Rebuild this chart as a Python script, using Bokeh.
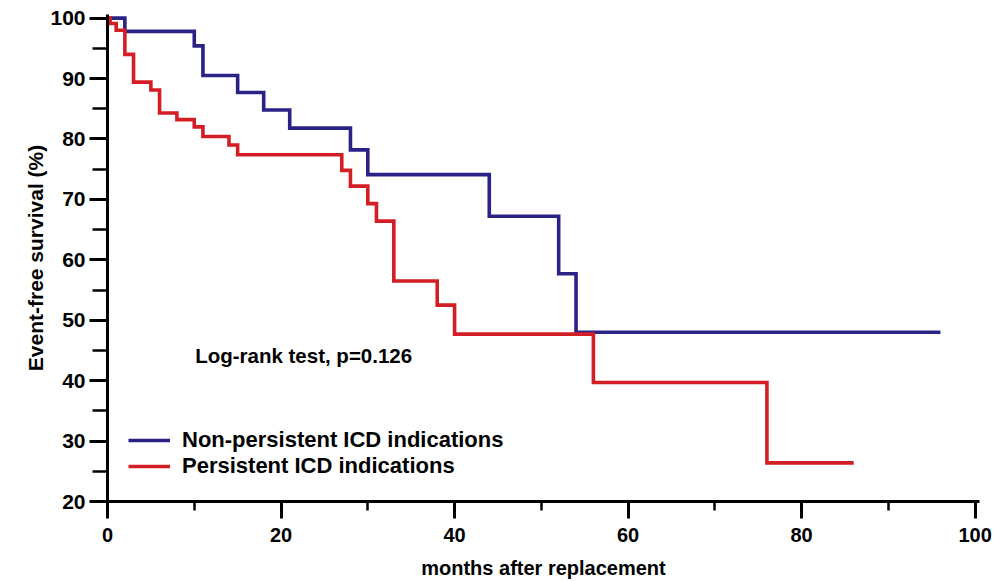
from bokeh.plotting import figure
from bokeh.models import Range1d, SingleIntervalTicker, Legend, LegendItem, Label
from bokeh.embed import file_html
from bokeh.resources import INLINE

# ---- data ----
months_non_persistent = [0, 2, 10, 11, 15, 18, 21, 28, 30, 44, 52, 54, 96]
survival_non_persistent = [100, 97.8, 95.4, 90.5, 87.7, 84.8, 81.8, 78.2, 74.1, 67.2, 57.7, 48.0, 48.0]

months_persistent = [0, 0.3, 1, 2, 3, 5, 6, 8, 10, 11, 14, 15, 27, 28, 30, 31, 33, 38, 40, 56, 76, 86]
survival_persistent = [100, 99.1, 98.0, 94.0, 89.4, 88.1, 84.3, 83.2, 82.0, 80.4, 79.0, 77.4,
                       74.8, 72.2, 69.3, 66.4, 56.5, 52.5, 47.7, 39.7, 26.4, 26.4]

series_names = ["Non-persistent ICD indications", "Persistent ICD indications"]
x_title = "months after replacement"
y_title = "Event-free survival (%)"
annotation = "Log-rank test, p=0.126"

FONT = "Liberation Sans"
BLUE = "#2B2288"
RED = "#D41E26"

p = figure(width=993, height=581, output_backend="svg", toolbar_location=None,
           x_range=Range1d(0, 100.5), y_range=Range1d(20, 100.6),
           min_border_left=107, min_border_right=14, min_border_top=14, min_border_bottom=80)
p.outline_line_color = None
p.grid.visible = False
p.background_fill_color = "white"

r_np = p.step(months_non_persistent, survival_non_persistent, mode="after",
              line_color=BLUE, line_width=3.6, line_join="miter")
r_p = p.step(months_persistent, survival_persistent, mode="after",
             line_color=RED, line_width=3.6, line_join="miter")

p.xaxis.ticker = SingleIntervalTicker(interval=20, num_minor_ticks=2)
p.yaxis.ticker = SingleIntervalTicker(interval=10, num_minor_ticks=2)

for ax in (p.xaxis, p.yaxis):
    ax.axis_line_width = 3
    ax.axis_line_color = "black"
    ax.major_tick_line_width = 3
    ax.minor_tick_line_width = 2.5
    ax.major_tick_line_color = "black"
    ax.minor_tick_line_color = "black"
    ax.major_tick_in = 0
    ax.minor_tick_in = 0
    ax.major_label_text_font = FONT
    ax.major_label_text_font_style = "bold"
    ax.major_label_text_color = "black"
    ax.axis_label_text_font = FONT
    ax.axis_label_text_font_style = "bold"
    ax.axis_label_text_color = "black"

p.xaxis.major_tick_out = 17
p.xaxis.minor_tick_out = 9
p.xaxis.major_label_standoff = 9
p.xaxis.major_label_text_font_size = "20px"
p.xaxis.axis_label = x_title
p.xaxis.axis_label_text_font_size = "20px"
p.xaxis.axis_label_standoff = 12

p.yaxis.major_tick_out = 18
p.yaxis.minor_tick_out = 15
p.yaxis.major_label_standoff = 4
p.yaxis.major_label_text_font_size = "21px"
p.yaxis.axis_label = y_title
p.yaxis.axis_label_text_font_size = "21px"
p.yaxis.axis_label_standoff = 0

legend = Legend(items=[LegendItem(label=series_names[0], renderers=[r_np]),
                       LegendItem(label=series_names[1], renderers=[r_p])],
                location=(21, 22), glyph_width=42, glyph_height=24, label_height=24,
                spacing=0, padding=0, margin=0, label_standoff=12,
                border_line_color=None, background_fill_alpha=0,
                label_text_font=FONT, label_text_font_style="bold",
                label_text_font_size="22px", label_text_color="black")
p.add_layout(legend)

p.add_layout(Label(x=10.1, y=44.1, text=annotation, text_baseline="middle",
                   text_font=FONT, text_font_style="bold", text_font_size="20.5px",
                   text_color="black"))

open("out.html", "w").write(file_html(p, INLINE))
